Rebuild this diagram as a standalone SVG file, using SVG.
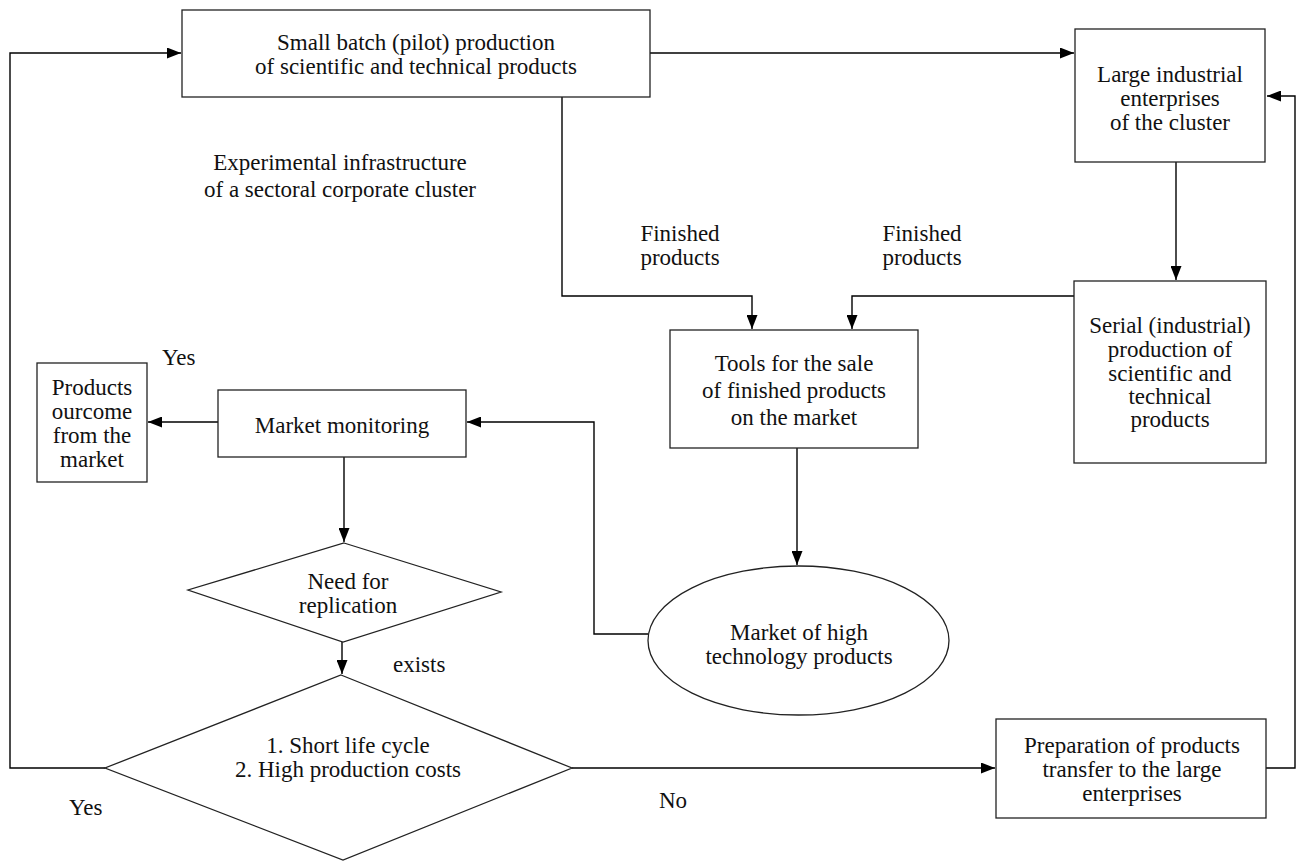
<svg xmlns="http://www.w3.org/2000/svg" width="1299" height="861" viewBox="0 0 1299 861">
<style>
.n{fill:#fff;stroke:#222;stroke-width:1.3}
.c{fill:none;stroke:#000;stroke-width:1.4}
text{font-family:"Liberation Serif","Times New Roman",serif;font-size:23px;fill:#111}
.m{text-anchor:middle}
</style>
<defs>
<marker id="ah" markerUnits="userSpaceOnUse" markerWidth="15" markerHeight="11" refX="14" refY="5.5" orient="auto">
<path d="M0,0 L14,5.5 L0,11 z" fill="#000"/>
</marker>
</defs>
<rect width="1299" height="861" fill="#fff"/>
<g id="connectors">
<path class="c" d="M105,768 H10 V53 H181" marker-end="url(#ah)"/>
<path class="c" d="M650,53 H1074" marker-end="url(#ah)"/>
<path class="c" d="M562,97 V296 H752 V329" marker-end="url(#ah)"/>
<path class="c" d="M1074,296 H852 V329" marker-end="url(#ah)"/>
<path class="c" d="M1176,162 V280" marker-end="url(#ah)"/>
<path class="c" d="M1266,768 H1295 V96 H1267" marker-end="url(#ah)"/>
<path class="c" d="M797,448 V565" marker-end="url(#ah)"/>
<path class="c" d="M648,634 H594 V422 H467" marker-end="url(#ah)"/>
<path class="c" d="M218,422 H148" marker-end="url(#ah)"/>
<path class="c" d="M344,457 V542" marker-end="url(#ah)"/>
<path class="c" d="M342,642 V674" marker-end="url(#ah)"/>
<path class="c" d="M572,768 H995" marker-end="url(#ah)"/>
</g>
<g id="pilot">
<rect class="n" x="182" y="10" width="468" height="87"/>
<text class="m" x="416" y="50">Small batch (pilot) production</text>
<text class="m" x="416" y="74">of scientific and technical products</text>
</g>
<g id="infra-label">
<text class="m" x="340" y="170">Experimental infrastructure</text>
<text class="m" x="340" y="197">of a sectoral corporate cluster</text>
</g>
<g id="large">
<rect class="n" x="1075" y="29" width="190" height="133"/>
<text class="m" x="1170" y="82">Large industrial</text>
<text class="m" x="1170" y="106">enterprises</text>
<text class="m" x="1170" y="130">of the cluster</text>
</g>
<g id="finished-labels">
<text class="m" x="680" y="241">Finished</text>
<text class="m" x="680" y="265">products</text>
<text class="m" x="922" y="241">Finished</text>
<text class="m" x="922" y="265">products</text>
</g>
<g id="tools">
<rect class="n" x="670" y="330" width="248" height="118"/>
<text class="m" x="794" y="371">Tools for the sale</text>
<text class="m" x="794" y="398">of finished products</text>
<text class="m" x="794" y="425">on the market</text>
</g>
<g id="serial">
<rect class="n" x="1074" y="281" width="192" height="182"/>
<text class="m" x="1170" y="333">Serial (industrial)</text>
<text class="m" x="1170" y="357">production of</text>
<text class="m" x="1170" y="381">scientific and</text>
<text class="m" x="1170" y="404">technical</text>
<text class="m" x="1170" y="427">products</text>
</g>
<g id="outcome">
<rect class="n" x="37" y="363" width="110" height="119"/>
<text class="m" x="92" y="395">Products</text>
<text class="m" x="92" y="419">ourcome</text>
<text class="m" x="92" y="443">from the</text>
<text class="m" x="92" y="467">market</text>
<text x="162" y="365">Yes</text>
</g>
<g id="monitoring">
<rect class="n" x="218" y="390" width="248" height="67"/>
<text class="m" x="342" y="433">Market monitoring</text>
</g>
<g id="market">
<ellipse class="n" cx="798.5" cy="640.5" rx="150.5" ry="74.5"/>
<text class="m" x="799" y="640">Market of high</text>
<text class="m" x="799" y="664">technology products</text>
</g>
<g id="need">
<polygon class="n" points="344,543 501,592 343,642 188,590"/>
<text class="m" x="348" y="589">Need for</text>
<text class="m" x="348" y="613">replication</text>
<text x="393" y="672">exists</text>
</g>
<g id="criteria">
<polygon class="n" points="341,675 572,768 343,860 105,768"/>
<text class="m" x="348" y="753">1. Short life cycle</text>
<text class="m" x="348" y="777">2. High production costs</text>
<text x="69" y="815">Yes</text>
<text x="659" y="808">No</text>
</g>
<g id="preparation">
<rect class="n" x="996" y="719" width="270" height="99"/>
<text class="m" x="1132" y="753">Preparation of products</text>
<text class="m" x="1132" y="777">transfer to the large</text>
<text class="m" x="1132" y="801">enterprises</text>
</g>
</svg>
